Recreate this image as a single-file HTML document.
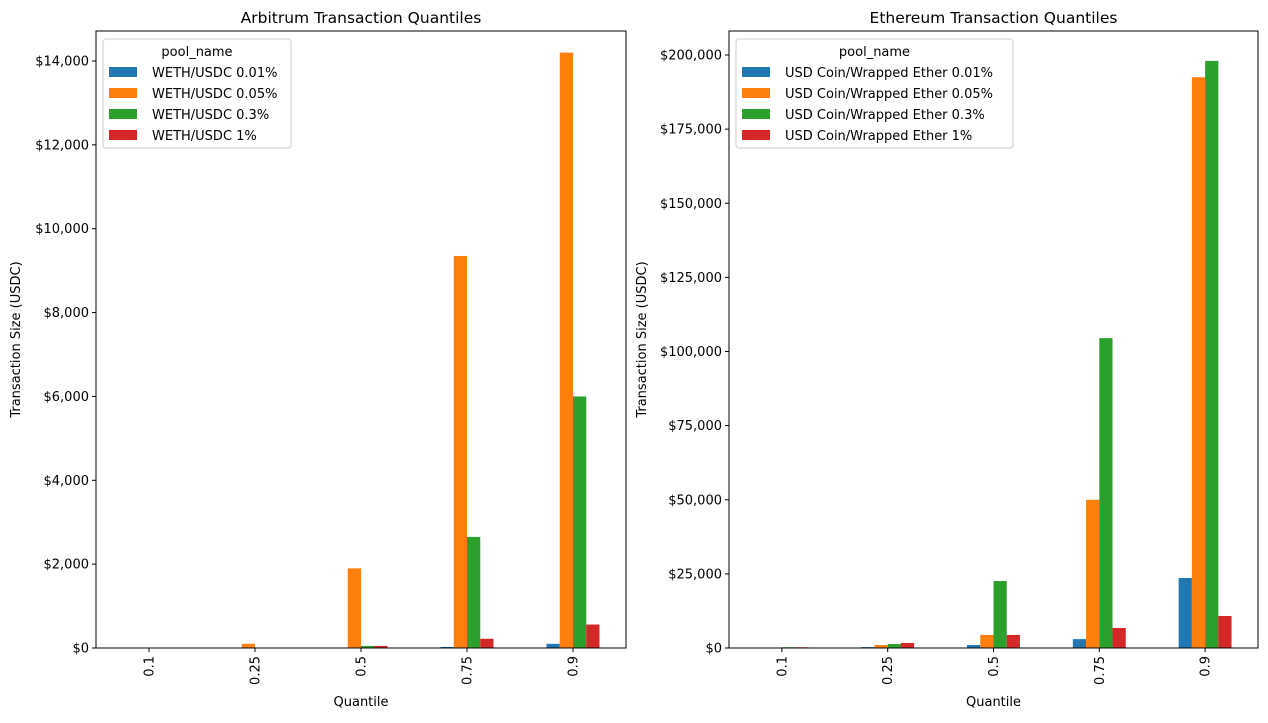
<!DOCTYPE html>
<html><head><meta charset="utf-8"><style>
body{margin:0;background:#fff;font-family:"Liberation Sans","DejaVu Sans",sans-serif}
</style></head><body>
<svg id="c" width="1268" height="718" xmlns="http://www.w3.org/2000/svg" font-family="DejaVu Sans, Liberation Sans, sans-serif" font-size="13"></svg>
<script>
const categories=["0.1","0.25","0.5","0.75","0.9"];
const arbBlue=[2,5,10,25,100];
const arbOrange=[5,100,1900,9350,14200];
const arbGreen=[3,8,50,2650,6000];
const arbRed=[2,6,50,220,560];
const ethBlue=[20,300,1000,3000,23600];
const ethOrange=[100,1000,4400,50000,192500];
const ethGreen=[250,1350,22600,104500,198000];
const ethRed=[250,1700,4400,6750,10800];
const arbTicks=[0,2000,4000,6000,8000,10000,12000,14000];
const ethTicks=[0,25000,50000,75000,100000,125000,150000,175000,200000];
const arbLabels=["WETH/USDC 0.01%","WETH/USDC 0.05%","WETH/USDC 0.3%","WETH/USDC 1%"];
const ethLabels=["USD Coin/Wrapped Ether 0.01%","USD Coin/Wrapped Ether 0.05%","USD Coin/Wrapped Ether 0.3%","USD Coin/Wrapped Ether 1%"];
const colors=["#1f77b4","#ff7f0e","#2ca02c","#d62728"];
const svg=document.getElementById('c');
const NS="http://www.w3.org/2000/svg";
function mk(t,a,p){const e=document.createElementNS(NS,t);for(const k in a)e.setAttribute(k,a[k]);(p||svg).appendChild(e);return e;}
function panel(x0,x1,y0,y1,ymax,series,ticks,labels,title,legW,pname,ylOff){
  const g=mk('g',{});
  
  
  const w=x1-x0,step=w/categories.length,bw=step*0.125;
  const ys=v=>y1-(v/ymax)*(y1-y0);
  const xs=i=>x0+step*(i+0.5);
  ticks.forEach(t=>{
    const y=ys(t);
    mk('line',{x1:x0-4,x2:x0,y1:y,y2:y,stroke:'#000'},g);
    const tx=mk('text',{x:x0-7,y:y+4.5,'text-anchor':'end'},g);
    tx.textContent='$'+t.toLocaleString('en-US');
    
    
  });
  series.forEach((s,j)=>{
    s.forEach((v,i)=>{
      const x=xs(i)-2*bw+j*bw;
      const r=mk('rect',{x:x,y:ys(v),width:bw,height:y1-ys(v),fill:colors[j]},g);
      
      
    });
  });
  categories.forEach((c,i)=>{
    const x=xs(i);
    mk('line',{x1:x,x2:x,y1:y1,y2:y1+4,stroke:'#000'},g);
    const tx=mk('text',{x:0,y:0,transform:`translate(${x+4.5},${y1+8}) rotate(-90)`,'text-anchor':'end'},g);
    tx.textContent=c;
    
    
  });
  mk('rect',{x:x0,y:y0,width:w,height:y1-y0,fill:'none',stroke:'#000','stroke-width':1},g);
  const tt=mk('text',{x:(x0+x1)/2,y:y0-8,'text-anchor':'middle','font-size':'15.5'},g);
  tt.textContent=title;
  
  
  const xl=mk('text',{x:(x0+x1)/2,y:706,'text-anchor':'middle'},g);
  xl.textContent='Quantile';
  
  
  const yl=mk('text',{x:0,y:0,transform:`translate(${x0-ylOff},${(y0+y1)/2}) rotate(-90)`,'text-anchor':'middle'},g);
  yl.textContent='Transaction Size (USDC)';
  
  
  const lg=mk('g',{},g);
  
  
  mk('rect',{x:x0+7,y:y0+8,width:legW,height:109,rx:3,fill:'#fff',stroke:'#ccc'},lg);
  const lt=mk('text',{x:x0+7+legW/2,y:y0+25,'text-anchor':'middle'},lg);
  lt.textContent='pool_name';
  labels.forEach((l,j)=>{
    const y=y0+34+j*21;
    mk('rect',{x:x0+13,y:y+2,width:28,height:10,fill:colors[j]},lg);
    const t=mk('text',{x:x0+56,y:y+12},lg);
    t.textContent=l;
    
    
  });
}
panel(96,626,31,648,14000*(648-31)/(648-61),[arbBlue,arbOrange,arbGreen,arbRed],arbTicks,arbLabels,'Arbitrum Transaction Quantiles',188,'arbitrum-panel',76);
panel(729,1258,31,648,200000*(648-31)/(648-55),[ethBlue,ethOrange,ethGreen,ethRed],ethTicks,ethLabels,'Ethereum Transaction Quantiles',277,'ethereum-panel',83);
</script>
</body></html>
